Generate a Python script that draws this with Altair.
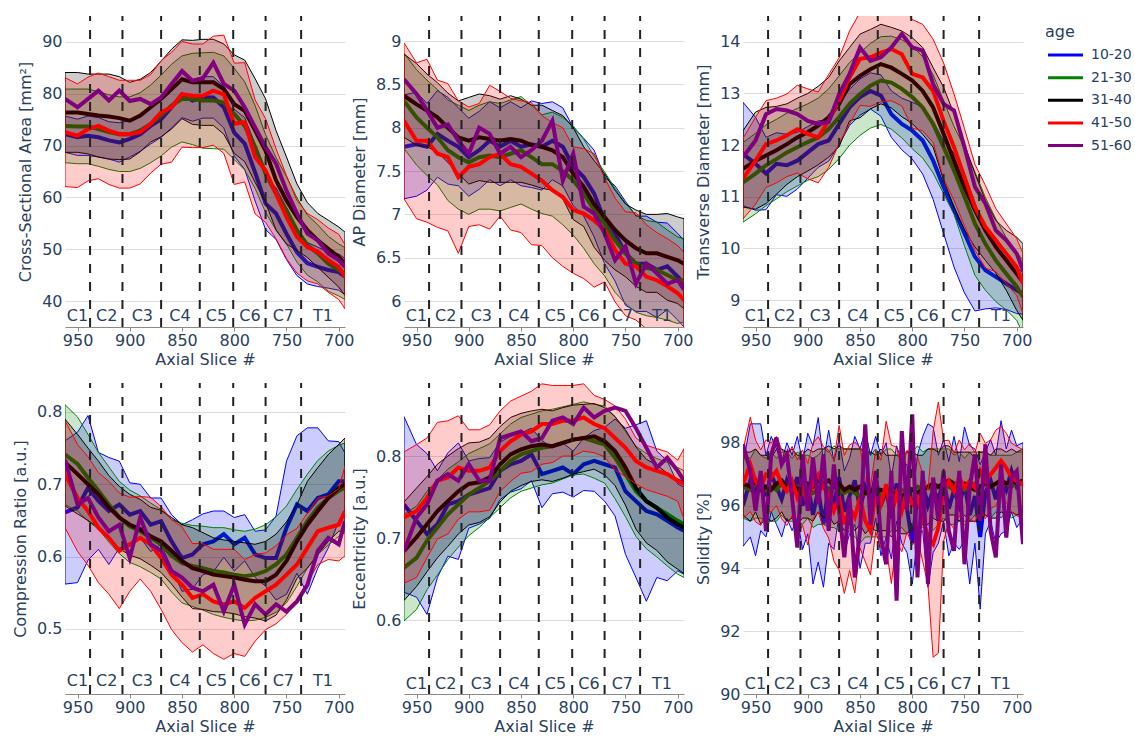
import altair as alt
import pandas as pd

AGES = ["10-20", "21-30", "31-40", "41-50", "51-60"]
COLORS = ["#0000ff", "#008000", "#000000", "#ff0000", "#800080"]
BOUNDS = [938, 907, 870, 833, 801, 770, 736]
VERT_NAMES = ["C1", "C2", "C3", "C4", "C5", "C6", "C7", "T1"]
VERT_POS = [950, 922, 888, 852, 817, 785, 753, 715]
X_TICKS = [950, 900, 850, 800, 750, 700]

SLICES = [962, 950, 940, 930, 920, 910, 900, 890, 880, 870, 860, 850, 840, 830,
          820, 810, 800, 790, 780, 770, 760, 750, 740, 730, 720, 710, 700, 694]

# Cross-sectional area
CSA_10_20 = [72.2, 71.6, 71.9, 71.6, 71.0, 70.6, 71.3, 72.2, 73.8, 75.1, 77.4, 79.9, 78.7, 79.3, 79.3, 77.4, 72.5, 70.4, 64.8, 58.8, 56.9, 53.0, 49.4, 47.3, 46.6, 46.0, 45.6, 44.7]
CSA_21_30 = [73.8, 73.7, 73.7, 73.2, 72.6, 72.2, 72.2, 72.9, 74.2, 75.8, 77.7, 79.0, 79.0, 78.7, 78.7, 78.3, 76.1, 73.8, 69.7, 64.6, 60.7, 57.5, 53.7, 50.8, 49.2, 47.2, 46.0, 45.3]
CSA_31_40 = [76.4, 76.4, 76.1, 75.8, 75.6, 75.3, 74.8, 75.8, 77.4, 79.0, 80.9, 82.8, 82.2, 82.2, 82.2, 80.9, 78.0, 76.7, 72.9, 69.0, 63.3, 59.4, 56.2, 53.7, 51.7, 50.1, 48.5, 47.2]
CSA_41_50 = [72.6, 71.9, 73.2, 73.8, 72.9, 72.2, 72.2, 72.6, 74.2, 76.4, 77.4, 79.9, 79.6, 79.6, 80.6, 79.9, 74.2, 74.5, 67.8, 65.2, 60.7, 56.2, 52.4, 50.4, 49.5, 47.9, 46.6, 44.7]
CSA_51_60 = [79.0, 77.4, 79.0, 80.6, 78.7, 80.6, 78.6, 79.0, 78.0, 79.3, 81.9, 84.4, 82.5, 83.0, 86.0, 81.9, 80.6, 77.4, 73.5, 69.7, 66.5, 61.3, 56.9, 53.0, 51.7, 49.2, 47.9, 46.6]
CSA_SD_10_20 = [3.5, 3.5, 3.8, 3.8, 3.6, 3.8, 3.5, 3.3, 3.5, 3.5, 4.0, 4.5, 4.0, 4.0, 4.0, 4.0, 4.5, 5.0, 5.5, 5.0, 5.0, 5.0, 4.5, 4.0, 3.8, 3.5, 3.5, 3.5]
CSA_SD_21_30 = [7.1, 7.2, 7.2, 7.2, 7.2, 7.2, 7.2, 7.3, 7.5, 7.8, 8.0, 8.3, 8.8, 9.2, 9.3, 9.0, 8.8, 8.5, 8.0, 7.5, 7.0, 6.5, 6.2, 5.8, 5.5, 5.3, 5.0, 5.0]
CSA_SD_31_40 = [7.7, 7.7, 7.7, 8.0, 8.2, 8.0, 7.4, 7.0, 6.7, 7.3, 7.7, 7.6, 8.1, 8.3, 8.3, 8.7, 9.5, 9.8, 10.0, 10.0, 9.6, 8.4, 6.4, 5.3, 5.2, 5.5, 5.8, 6.1]
CSA_SD_41_50 = [10.5, 10.0, 10.0, 10.2, 10.4, 10.4, 10.4, 10.0, 9.5, 10.0, 10.6, 10.2, 10.0, 10.0, 10.5, 11.4, 11.7, 11.5, 11.0, 10.0, 8.7, 8.0, 7.0, 6.5, 6.2, 6.2, 6.3, 6.2]

# AP diameter
AP_10_20 = [7.78, 7.81, 7.78, 7.93, 7.85, 7.78, 7.66, 7.74, 7.85, 7.78, 7.85, 7.78, 7.81, 7.78, 7.85, 7.78, 7.55, 7.43, 7.24, 6.93, 6.78, 6.55, 6.43, 6.43, 6.36, 6.40, 6.28, 6.20]
AP_21_30 = [8.31, 8.12, 8.00, 7.89, 7.74, 7.66, 7.60, 7.66, 7.68, 7.66, 7.70, 7.74, 7.66, 7.58, 7.58, 7.50, 7.39, 7.24, 7.05, 6.89, 6.70, 6.55, 6.43, 6.38, 6.36, 6.30, 6.24, 6.24]
AP_31_40 = [8.37, 8.27, 8.20, 8.12, 8.00, 7.89, 7.85, 7.89, 7.87, 7.85, 7.87, 7.85, 7.80, 7.78, 7.74, 7.66, 7.47, 7.32, 7.12, 6.97, 6.82, 6.70, 6.61, 6.55, 6.55, 6.51, 6.47, 6.43]
AP_41_50 = [8.08, 7.85, 7.85, 7.70, 7.66, 7.43, 7.55, 7.58, 7.66, 7.70, 7.58, 7.55, 7.47, 7.39, 7.28, 7.20, 7.05, 7.01, 6.93, 6.82, 6.59, 6.43, 6.40, 6.28, 6.24, 6.17, 6.09, 6.01]
AP_51_60 = [8.56, 8.39, 8.20, 8.00, 8.04, 7.85, 7.70, 8.00, 7.93, 7.70, 7.78, 7.66, 7.74, 7.85, 8.08, 7.39, 7.70, 7.09, 7.01, 6.78, 6.47, 6.63, 6.20, 6.43, 6.32, 6.20, 6.24, 6.13]
AP_SD_10_20 = [0.6, 0.6, 0.5, 0.5, 0.5, 0.45, 0.45, 0.45, 0.45, 0.45, 0.45, 0.45, 0.5, 0.5, 0.45, 0.45, 0.45, 0.45, 0.5, 0.5, 0.55, 0.6, 0.55, 0.55, 0.55, 0.5, 0.5, 0.5]
AP_SD_21_30 = [0.55, 0.55, 0.55, 0.55, 0.58, 0.6, 0.6, 0.6, 0.62, 0.62, 0.62, 0.62, 0.6, 0.57, 0.6, 0.62, 0.63, 0.63, 0.62, 0.6, 0.6, 0.58, 0.56, 0.55, 0.55, 0.52, 0.5, 0.48]
AP_SD_31_40 = [0.48, 0.47, 0.42, 0.4, 0.4, 0.42, 0.5, 0.5, 0.5, 0.48, 0.5, 0.48, 0.46, 0.48, 0.46, 0.48, 0.53, 0.46, 0.5, 0.5, 0.46, 0.42, 0.44, 0.45, 0.45, 0.5, 0.5, 0.52]
AP_SD_41_50 = [0.9, 0.9, 0.94, 0.85, 0.85, 0.88, 0.69, 0.7, 0.83, 0.72, 0.76, 0.76, 0.82, 0.75, 0.78, 0.8, 0.73, 0.75, 0.77, 0.6, 0.6, 0.6, 0.62, 0.6, 0.55, 0.55, 0.55, 0.55]

# Transverse diameter
TD_10_20 = [11.83, 11.64, 11.45, 11.64, 11.61, 11.70, 11.86, 12.02, 12.09, 12.41, 12.73, 12.93, 13.05, 12.96, 12.60, 12.41, 12.28, 12.09, 11.70, 11.19, 10.74, 10.29, 9.84, 9.58, 9.45, 9.32, 9.19, 9.13]
TD_21_30 = [11.28, 11.45, 11.61, 11.73, 11.86, 11.96, 12.06, 12.15, 12.31, 12.54, 12.80, 12.99, 13.15, 13.25, 13.21, 13.09, 12.93, 12.73, 12.41, 11.96, 11.51, 11.00, 10.48, 10.09, 9.77, 9.51, 9.26, 9.06]
TD_31_40 = [11.54, 11.70, 11.80, 11.90, 12.02, 12.15, 12.25, 12.38, 12.54, 12.80, 13.18, 13.34, 13.47, 13.57, 13.50, 13.38, 13.25, 13.05, 12.73, 12.22, 11.70, 11.19, 10.74, 10.35, 10.03, 9.77, 9.51, 9.35]
TD_41_50 = [11.35, 11.70, 12.02, 12.09, 12.19, 12.31, 12.22, 12.15, 12.47, 12.86, 13.31, 13.67, 13.70, 13.79, 13.86, 13.76, 13.38, 13.31, 13.05, 12.47, 11.96, 11.38, 10.80, 10.42, 10.16, 9.90, 9.64, 9.32]
TD_51_60 = [11.77, 12.09, 12.60, 12.70, 12.67, 12.60, 12.47, 12.41, 12.45, 12.99, 13.38, 13.89, 13.63, 13.70, 13.89, 14.15, 13.89, 13.83, 13.18, 12.80, 12.67, 11.96, 11.19, 10.87, 10.35, 10.16, 9.90, 9.58]
TD_SD_10_20 = [1.0, 0.9, 0.7, 0.6, 0.6, 0.55, 0.5, 0.45, 0.4, 0.4, 0.35, 0.35, 0.35, 0.4, 0.45, 0.5, 0.55, 0.65, 0.75, 0.9, 1.1, 1.15, 1.05, 0.75, 0.6, 0.5, 0.45, 0.4]
TD_SD_21_30 = [0.77, 0.78, 0.78, 0.77, 0.76, 0.75, 0.74, 0.76, 0.78, 0.8, 0.8, 0.8, 0.82, 0.85, 0.9, 0.95, 1.0, 0.98, 0.95, 0.9, 0.85, 0.95, 1.0, 0.9, 0.8, 0.7, 0.65, 0.72]
TD_SD_31_40 = [0.74, 0.94, 0.93, 0.85, 0.78, 0.76, 0.75, 0.76, 0.77, 0.83, 0.71, 0.81, 0.77, 0.77, 0.78, 0.83, 0.83, 0.84, 0.77, 0.9, 0.9, 0.83, 0.71, 0.58, 0.51, 0.58, 0.71, 0.74]
TD_SD_41_50 = [0.78, 0.84, 0.84, 0.82, 0.8, 0.85, 0.87, 0.88, 0.9, 0.83, 0.9, 0.9, 0.95, 0.95, 1.0, 1.0, 1.05, 1.03, 1.0, 1.12, 1.03, 0.94, 0.83, 0.8, 0.61, 0.58, 0.55, 0.58]

# Compression ratio
CR_10_20 = [0.661, 0.668, 0.695, 0.677, 0.663, 0.672, 0.658, 0.663, 0.644, 0.649, 0.621, 0.598, 0.603, 0.617, 0.621, 0.631, 0.617, 0.626, 0.603, 0.598, 0.598, 0.640, 0.672, 0.663, 0.681, 0.686, 0.704, 0.704]
CR_21_30 = [0.741, 0.728, 0.709, 0.691, 0.672, 0.654, 0.642, 0.635, 0.626, 0.617, 0.601, 0.591, 0.587, 0.584, 0.580, 0.578, 0.575, 0.573, 0.575, 0.580, 0.589, 0.603, 0.626, 0.649, 0.668, 0.681, 0.691, 0.695]
CR_31_40 = [0.730, 0.714, 0.700, 0.686, 0.668, 0.654, 0.644, 0.638, 0.628, 0.621, 0.608, 0.594, 0.584, 0.580, 0.575, 0.573, 0.571, 0.568, 0.566, 0.566, 0.575, 0.594, 0.621, 0.644, 0.663, 0.681, 0.695, 0.700]
CR_41_50 = [0.714, 0.681, 0.663, 0.640, 0.626, 0.608, 0.617, 0.626, 0.617, 0.598, 0.575, 0.561, 0.543, 0.548, 0.538, 0.534, 0.538, 0.529, 0.543, 0.552, 0.561, 0.575, 0.589, 0.612, 0.635, 0.640, 0.644, 0.663]
CR_51_60 = [0.734, 0.672, 0.681, 0.654, 0.635, 0.644, 0.598, 0.654, 0.617, 0.608, 0.580, 0.571, 0.557, 0.552, 0.561, 0.524, 0.561, 0.506, 0.534, 0.520, 0.534, 0.524, 0.538, 0.561, 0.608, 0.626, 0.617, 0.649]
CR_SD_10_20 = [0.099, 0.104, 0.1, 0.067, 0.074, 0.06, 0.044, 0.037, 0.037, 0.032, 0.037, 0.046, 0.048, 0.042, 0.042, 0.032, 0.037, 0.032, 0.032, 0.039, 0.058, 0.092, 0.095, 0.115, 0.097, 0.074, 0.055, 0.039]
CR_SD_21_30 = [0.069, 0.065, 0.06, 0.053, 0.052, 0.05, 0.05, 0.049, 0.048, 0.048, 0.05, 0.055, 0.056, 0.058, 0.06, 0.062, 0.062, 0.062, 0.063, 0.064, 0.066, 0.067, 0.067, 0.065, 0.065, 0.065, 0.063, 0.062]
CR_SD_31_40 = [0.06, 0.055, 0.05, 0.046, 0.044, 0.043, 0.042, 0.041, 0.04, 0.043, 0.046, 0.05, 0.056, 0.053, 0.051, 0.05, 0.05, 0.051, 0.051, 0.055, 0.056, 0.054, 0.051, 0.06, 0.06, 0.06, 0.06, 0.064]
CR_SD_41_50 = [0.074, 0.074, 0.075, 0.076, 0.078, 0.08, 0.065, 0.057, 0.065, 0.071, 0.076, 0.08, 0.075, 0.07, 0.072, 0.076, 0.072, 0.067, 0.06, 0.053, 0.054, 0.055, 0.05, 0.048, 0.046, 0.044, 0.05, 0.062]

# Eccentricity
EC_10_20 = [0.741, 0.721, 0.705, 0.717, 0.741, 0.745, 0.753, 0.757, 0.761, 0.782, 0.790, 0.794, 0.802, 0.778, 0.782, 0.786, 0.778, 0.790, 0.794, 0.790, 0.786, 0.757, 0.745, 0.733, 0.729, 0.721, 0.713, 0.709]
EC_21_30 = [0.664, 0.676, 0.697, 0.713, 0.729, 0.741, 0.753, 0.761, 0.770, 0.782, 0.794, 0.802, 0.806, 0.810, 0.812, 0.816, 0.820, 0.822, 0.818, 0.814, 0.798, 0.778, 0.757, 0.745, 0.737, 0.729, 0.721, 0.717]
EC_31_40 = [0.684, 0.701, 0.717, 0.733, 0.745, 0.757, 0.766, 0.768, 0.774, 0.790, 0.802, 0.808, 0.812, 0.814, 0.812, 0.816, 0.820, 0.822, 0.824, 0.818, 0.806, 0.786, 0.761, 0.745, 0.737, 0.725, 0.717, 0.713]
EC_41_50 = [0.725, 0.733, 0.749, 0.770, 0.774, 0.786, 0.782, 0.782, 0.786, 0.806, 0.818, 0.826, 0.830, 0.839, 0.839, 0.843, 0.843, 0.847, 0.839, 0.834, 0.822, 0.810, 0.794, 0.786, 0.782, 0.778, 0.770, 0.766]
EC_51_60 = [0.684, 0.725, 0.741, 0.770, 0.778, 0.770, 0.790, 0.770, 0.770, 0.822, 0.826, 0.830, 0.818, 0.822, 0.843, 0.847, 0.839, 0.859, 0.847, 0.855, 0.859, 0.855, 0.834, 0.810, 0.786, 0.798, 0.782, 0.770]
EC_SD_10_20 = [0.107, 0.093, 0.098, 0.065, 0.063, 0.071, 0.041, 0.04, 0.037, 0.035, 0.034, 0.034, 0.032, 0.041, 0.028, 0.03, 0.028, 0.032, 0.037, 0.045, 0.059, 0.077, 0.093, 0.11, 0.077, 0.073, 0.053, 0.053]
EC_SD_21_30 = [0.065, 0.063, 0.06, 0.058, 0.055, 0.052, 0.05, 0.048, 0.045, 0.045, 0.045, 0.045, 0.045, 0.045, 0.045, 0.044, 0.043, 0.044, 0.045, 0.047, 0.05, 0.052, 0.055, 0.058, 0.06, 0.063, 0.065, 0.065]
EC_SD_31_40 = [0.06, 0.06, 0.058, 0.057, 0.055, 0.052, 0.05, 0.049, 0.048, 0.046, 0.045, 0.044, 0.043, 0.043, 0.043, 0.043, 0.042, 0.041, 0.04, 0.041, 0.042, 0.046, 0.05, 0.051, 0.052, 0.054, 0.055, 0.056]
EC_SD_41_50 = [0.08, 0.081, 0.073, 0.071, 0.069, 0.063, 0.05, 0.05, 0.052, 0.049, 0.049, 0.047, 0.049, 0.049, 0.047, 0.043, 0.043, 0.041, 0.035, 0.035, 0.039, 0.035, 0.028, 0.027, 0.027, 0.027, 0.025, 0.043]

# Solidity (finer slice sampling)
SLICES_FINE = [962, 955, 950, 945, 940, 935, 930, 925, 920, 915, 910, 905, 900, 895, 890, 885, 880, 875,
               870, 865, 860, 855, 850, 845, 840, 835, 830, 825, 820, 815, 810, 805, 800, 795, 790, 785,
               780, 775, 770, 765, 760, 755, 750, 745, 740, 735, 730, 725, 720, 715, 710, 705, 700, 694]
SOL_10_20 = [96.0, 96.8, 96.5, 96.9, 96.3, 97.0, 96.6, 96.2, 96.8, 96.4, 96.9, 96.0, 96.7, 95.7, 96.5, 95.4, 96.6, 96.0,
             96.9, 95.8, 96.3, 96.8, 95.9, 96.6, 96.2, 96.9, 96.0, 96.5, 95.6, 96.7, 96.1, 95.9, 94.8, 96.3, 96.7, 96.0,
             96.5, 96.2, 96.8, 95.9, 96.5, 96.0, 96.7, 95.7, 96.3, 95.0, 96.4, 96.8, 96.2, 96.9, 96.5, 97.1, 96.6, 96.8]
SOL_21_30 = [96.6, 96.5, 96.7, 96.6, 96.5, 96.6, 96.5, 96.7, 96.6, 96.5, 96.6, 96.5, 96.6, 96.4, 96.5, 96.6, 96.5, 96.6,
             96.5, 96.4, 96.5, 96.4, 96.3, 96.4, 96.3, 96.4, 96.3, 96.4, 96.5, 96.4, 96.5, 96.4, 96.5, 96.6, 96.5, 96.6,
             96.5, 96.6, 96.7, 96.6, 96.5, 96.6, 96.5, 96.6, 96.7, 96.6, 96.7, 96.6, 96.7, 96.6, 96.7, 96.6, 96.7, 96.7]
SOL_31_40 = [96.7, 96.6, 96.8, 96.5, 96.6, 96.5, 96.7, 96.8, 96.6, 96.7, 96.5, 96.6, 96.7, 96.6, 96.8, 96.7, 96.8, 96.6,
             96.7, 96.5, 96.6, 96.5, 96.6, 96.4, 96.5, 96.4, 96.5, 96.4, 96.3, 96.4, 96.3, 96.4, 96.5, 96.4, 96.5, 96.6,
             96.7, 96.6, 96.7, 96.8, 96.7, 96.6, 96.7, 96.6, 96.5, 96.6, 96.7, 96.6, 96.7, 96.8, 96.7, 96.8, 96.7, 96.8]
SOL_41_50 = [96.68, 97.31, 96.78, 96.57, 96.99, 96.89, 97.10, 96.68, 96.46, 96.78, 96.25, 96.57, 96.04, 96.78, 96.99, 96.57, 96.36, 95.83,
             96.25, 95.40, 95.93, 95.62, 96.25, 95.51, 95.19, 96.46, 96.04, 96.68, 95.72, 96.36, 95.83, 96.46, 96.04, 96.25, 95.62, 94.98,
             94.77, 95.30, 96.46, 96.78, 96.46, 96.89, 96.57, 96.78, 96.57, 97.10, 96.78, 96.99, 97.20, 97.42, 97.20, 96.89, 96.78, 96.68]
SOL_51_60 = [97.95, 97.10, 95.83, 97.10, 95.19, 97.63, 98.16, 97.31, 97.63, 96.25, 94.66, 97.63, 95.83, 97.52, 96.04, 97.63, 95.19, 97.31,
             95.83, 94.35, 96.25, 93.71, 95.19, 98.58, 95.40, 97.10, 94.98, 94.13, 97.10, 92.97, 98.37, 95.83, 98.90, 93.71, 97.10, 93.50,
             96.89, 95.51, 97.10, 95.19, 94.56, 97.10, 94.13, 96.57, 97.63, 95.51, 97.95, 95.19, 94.35, 97.31, 94.98, 96.89, 97.10, 94.77]
SOL_SD_10_20 = [1.3, 1.8, 2.1, 1.7, 1.3, 1.2, 1.2, 1.2, 1.2, 1.2, 1.3, 1.4, 1.6, 2.2, 2.3, 2.0, 1.8, 1.4,
                1.2, 1.3, 1.2, 1.4, 1.9, 1.8, 1.4, 1.3, 1.6, 1.5, 1.3, 1.2, 1.3, 1.4, 1.3, 1.3, 1.5, 2.6,
                2.0, 1.4, 1.3, 1.5, 1.7, 1.4, 1.8, 2.2, 1.5, 2.3, 1.3, 1.3, 1.4, 1.8, 1.3, 1.3, 1.3, 1.2]
SOL_SD_21_30 = [1.0, 1.0, 1.1, 1.0, 1.0, 1.1, 1.0, 1.0, 1.1, 1.0, 1.1, 1.1, 1.0, 1.1, 1.1, 1.2, 1.2, 1.3,
                1.3, 1.4, 1.3, 1.4, 1.5, 1.4, 1.3, 1.4, 1.3, 1.4, 1.3, 1.2, 1.2, 1.3, 1.2, 1.3, 1.2, 1.2,
                1.3, 1.2, 1.1, 1.2, 1.1, 1.1, 1.0, 1.1, 1.0, 1.1, 1.0, 1.0, 0.9, 1.0, 0.9, 1.0, 1.0, 1.0]
SOL_SD_31_40 = [1.0, 1.1, 1.0, 1.1, 1.0, 1.0, 1.1, 1.0, 1.1, 1.1, 1.1, 1.0, 1.1, 1.1, 1.0, 1.1, 1.1, 1.2,
                1.2, 1.3, 1.2, 1.3, 1.2, 1.3, 1.2, 1.2, 1.3, 1.2, 1.3, 1.2, 1.2, 1.3, 1.2, 1.2, 1.1, 1.2,
                1.1, 1.1, 1.2, 1.1, 1.0, 1.1, 1.0, 1.1, 1.0, 1.1, 1.0, 1.0, 1.1, 1.0, 1.0, 1.0, 1.0, 1.0]
SOL_SD_41_50 = [1.1, 1.5, 1.3, 1.2, 1.1, 1.1, 1.1, 1.1, 1.1, 1.1, 1.2, 1.2, 1.3, 1.2, 1.2, 1.3, 1.4, 1.6,
                2.3, 2.2, 2.0, 2.4, 1.6, 1.3, 1.4, 1.3, 1.4, 2.0, 2.2, 1.5, 1.3, 1.3, 1.3, 1.3, 1.4, 1.5,
                3.6, 4.0, 1.6, 1.3, 1.2, 1.2, 1.2, 1.2, 1.1, 1.2, 1.2, 1.1, 1.2, 1.1, 1.1, 1.1, 1.1, 1.1]

FONT = "DejaVu Sans"
TXT = "#2a3f5f"
W, H = 280, 311

color_scale = alt.Scale(domain=AGES, range=COLORS)


def build(slices, means, sds, ytitle, ydomain, yticks, lab_off):
    rows = []
    for age, m in zip(AGES, means):
        sd = sds.get(age)
        for i, s in enumerate(slices):
            r = {"slice": s, "age": age, "mean": m[i]}
            if sd is not None:
                r["lo"] = m[i] - sd[i]
                r["hi"] = m[i] + sd[i]
            rows.append(r)
    df = pd.DataFrame(rows)

    xs = alt.Scale(domain=[694, 962], reverse=True, nice=False, zero=False)
    xax = alt.Axis(values=X_TICKS, format="d", title="Axial Slice #", grid=False,
                   domainColor="#8a8a8a", tickColor="#8a8a8a", tickSize=4,
                   labelPadding=1, titlePadding=3, labelFlush=False)
    ys = alt.Scale(domain=ydomain, nice=False, zero=False)
    yax = alt.Axis(values=yticks, format="~r", title=ytitle, grid=True,
                   gridColor="#dcdcdc", domain=False, ticks=False,
                   labelPadding=3, titlePadding=8, labelFlush=False)

    layers = []
    for age, col in zip(AGES, COLORS):
        base = alt.Chart(df).transform_filter(alt.datum.age == age)
        if age in sds:
            layers.append(
                base.mark_area(clip=True, fill=col, fillOpacity=0.2, stroke=col, strokeWidth=1).encode(
                    x=alt.X("slice:Q", scale=xs, axis=xax),
                    y=alt.Y("lo:Q", scale=ys, axis=yax),
                    y2="hi:Q",
                )
            )
        layers.append(
            base.mark_line(clip=True, strokeWidth=4).encode(
                x=alt.X("slice:Q", scale=xs, axis=xax),
                y=alt.Y("mean:Q", scale=ys, axis=yax),
                color=alt.Color("age:N", scale=color_scale, legend=None),
            )
        )
    rules = alt.Chart(pd.DataFrame({"b": BOUNDS})).mark_rule(
        color="#222222", strokeWidth=2, strokeDash=[9, 9]
    ).encode(x=alt.X("b:Q", scale=xs, axis=xax), y=alt.value(H), y2=alt.value(0))
    labels = alt.Chart(pd.DataFrame({"pos": VERT_POS, "name": VERT_NAMES})).mark_text(
        font=FONT, fontSize=16, color=TXT, baseline="alphabetic", align="center"
    ).encode(x=alt.X("pos:Q", scale=xs, axis=xax), y=alt.value(H - lab_off), text="name:N")
    return alt.layer(*layers, rules, labels).properties(width=W, height=H)


def legend_layer():
    # legend drawn to the right of the third panel's plot area
    ldf = pd.DataFrame({"age": AGES})
    ly = alt.Scale(type="point", domain=AGES, range=[39, 129.5], padding=0)
    swatches = alt.Chart(ldf).mark_rule(strokeWidth=3).encode(
        x=alt.value(305), x2=alt.value(340),
        y=alt.Y("age:N", scale=ly, axis=None),
        color=alt.Color("age:N", scale=color_scale, legend=None),
    )
    names = alt.Chart(ldf).mark_text(
        font=FONT, fontSize=14, color=TXT, align="left", baseline="middle"
    ).encode(x=alt.value(348), y=alt.Y("age:N", scale=ly, axis=None), text="age:N")
    title = alt.Chart(pd.DataFrame({"t": ["age"]})).mark_text(
        font=FONT, fontSize=16, color=TXT, align="left", baseline="alphabetic"
    ).encode(x=alt.value(302), y=alt.value(20.7), text="t:N")
    return alt.layer(swatches, names, title)


p1 = build(SLICES, [CSA_10_20, CSA_21_30, CSA_31_40, CSA_41_50, CSA_51_60],
           {"10-20": CSA_SD_10_20, "21-30": CSA_SD_21_30, "31-40": CSA_SD_31_40, "41-50": CSA_SD_41_50},
           "Cross-Sectional Area [mm²]", [35, 95], [40, 50, 60, 70, 80, 90], 6.5)
p2 = build(SLICES, [AP_10_20, AP_21_30, AP_31_40, AP_41_50, AP_51_60],
           {"10-20": AP_SD_10_20, "21-30": AP_SD_21_30, "31-40": AP_SD_31_40, "41-50": AP_SD_41_50},
           "AP Diameter [mm]", [5.7, 9.29], [6, 6.5, 7, 7.5, 8, 8.5, 9], 6.5)
p3_plot = build(SLICES, [TD_10_20, TD_21_30, TD_31_40, TD_41_50, TD_51_60],
                {"10-20": TD_SD_10_20, "21-30": TD_SD_21_30, "31-40": TD_SD_31_40, "41-50": TD_SD_41_50},
                "Transverse Diameter [mm]", [8.48, 14.5], [9, 10, 11, 12, 13, 14], 6.5)
p3 = alt.layer(p3_plot, legend_layer()).resolve_scale(y="independent").properties(width=W, height=H)
p4 = build(SLICES, [CR_10_20, CR_21_30, CR_31_40, CR_41_50, CR_51_60],
           {"10-20": CR_SD_10_20, "21-30": CR_SD_21_30, "31-40": CR_SD_31_40, "41-50": CR_SD_41_50},
           "Compression Ratio [a.u.]", [0.41, 0.84], [0.5, 0.6, 0.7, 0.8], 8)
p5 = build(SLICES, [EC_10_20, EC_21_30, EC_31_40, EC_41_50, EC_51_60],
           {"10-20": EC_SD_10_20, "21-30": EC_SD_21_30, "31-40": EC_SD_31_40, "41-50": EC_SD_41_50},
           "Eccentricity [a.u.]", [0.51, 0.889], [0.6, 0.7, 0.8], 5)
p6 = build(SLICES_FINE, [SOL_10_20, SOL_21_30, SOL_31_40, SOL_41_50, SOL_51_60],
           {"10-20": SOL_SD_10_20, "21-30": SOL_SD_21_30, "31-40": SOL_SD_31_40, "41-50": SOL_SD_41_50},
           "Solidity [%]", [90, 99.9], [90, 92, 94, 96, 98], 5)

chart = alt.concat(
    p1, p2, p3, p4, p5, p6, columns=3,
    spacing={"row": 56, "column": 59}, bounds="flush",
).properties(
    padding={"left": 12, "top": 15, "right": 0, "bottom": 0}
).configure(font=FONT).configure_view(strokeWidth=0).configure_axis(
    labelFont=FONT, titleFont=FONT, labelFontSize=16, titleFontSize=16,
    labelColor=TXT, titleColor=TXT, titleFontWeight="normal",
)

chart.save("out.html", embed_options={"renderer": "svg", "actions": False})
